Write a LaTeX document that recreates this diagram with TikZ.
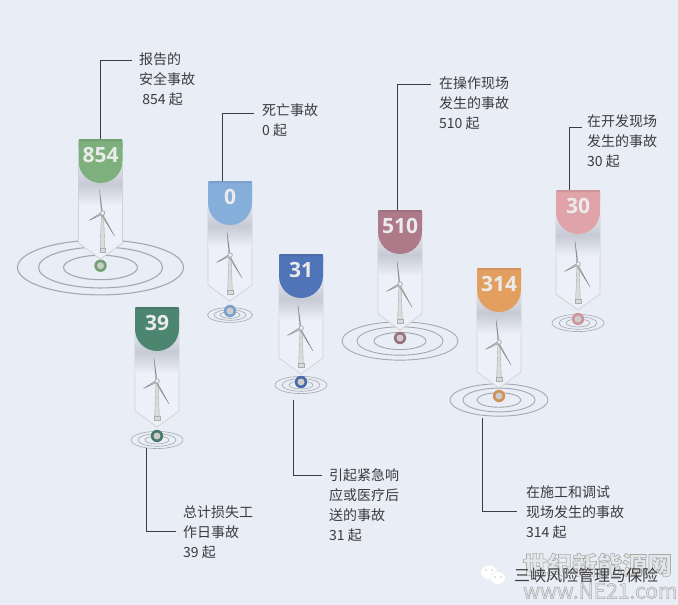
\documentclass[tikz,border=0pt]{standalone}
\usepackage{fontspec}
\setmainfont{Noto Sans CJK SC}
\newfontfamily\numfont{Open Sans}
\usetikzlibrary{calc}
\definecolor{bgc}{HTML}{E8EDF6}
\definecolor{bodyc}{HTML}{EDF0F8}
\definecolor{shadetop}{HTML}{E2E5EE}
\definecolor{shademid}{HTML}{C6CAD5}
\definecolor{txt}{HTML}{3C3C3C}
\definecolor{ringc}{HTML}{A4A8B0}
\definecolor{linec}{HTML}{3A3D42}
\definecolor{cgreen}{HTML}{7DB07C}
\definecolor{cblue}{HTML}{86AEDB}
\definecolor{cdblue}{HTML}{4F74B8}
\definecolor{cdgreen}{HTML}{4C8570}
\definecolor{cmauve}{HTML}{AD7A8A}
\definecolor{corange}{HTML}{E39F60}
\definecolor{cpink}{HTML}{E0A3AA}
\tikzset{
  x=1pt,y=-1pt,
  label text/.style={anchor=north west,inner sep=0pt,align=left,text=txt,font=\fontsize{14}{20}\selectfont},
  num text/.style={text=white!92!black,font=\numfont\fontsize{21}{21}\selectfont\bfseries,inner sep=0pt},
  leader/.style={draw=linec,line width=0.9pt},
  pinbody/.style={draw=black!18,line width=0.7pt,fill=bodyc,line join=round},
  mast/.style={draw=black!32,fill=black!14,line width=0.4pt},
  base/.style={draw=black!32,fill=white!85!black,line width=0.4pt},
  blade/.style={draw=black!48,fill=black!22,line width=0.35pt,line join=round},
  cap anchor/.style={inner sep=0pt,minimum width=44pt,minimum height=0pt},
  mark text/.style={inner sep=0pt,text=white!80!gray,opacity=.8},
}
% set before each pin: \ringW ring line width, \dotY dot offset, \ringY ring offset, \turbX turbine offset
\newcommand{\windpin}[8]{% name, cx, top, colour, number, r1, r2, r3
  \begin{scope}[shift={(#2,#3)}]
    \draw[draw=ringc,line width=\ringW] (0,\ringY) ellipse [x radius=#6,y radius=#6*0.33];
    \draw[draw=ringc,line width=\ringW] (0,\ringY) ellipse [x radius=#7,y radius=#7*0.33];
    \draw[draw=ringc,line width=\ringW] (0,\ringY) ellipse [x radius=#8,y radius=#8*0.33];
    \path[pinbody] (-22,26) -- (-22,104) -- (0,120) -- (22,104) -- (22,26) -- cycle;
    \shade[top color=shadetop,bottom color=bodyc,middle color=shademid] (-21.6,24) rectangle (21.6,66);
    % turbine
    \begin{scope}[xshift=\turbX]
      \path[mast] (-1.1,77) -- (1.1,77) -- (2.4,111) -- (-2.4,111) -- cycle;
      \path[base] (-2.8,109) rectangle (2.8,113);
      \path[blade] (0,73) -- (-3,51) -- (-1,74) -- cycle;
      \path[blade] (-1,73.5) -- (-13.5,81.5) -- (-0.5,75.5) -- cycle;
      \path[blade] (0,75) -- (12,97) -- (-1,76) -- cycle;
      \draw[black!42,line width=0.45pt,fill=bgc] (0.2,74) circle (2.2);
    \end{scope}
    % cap
    \fill[#4,rounded corners=1.5pt] (-22,0) -- (22,0) -- (22,10) -- (-22,10) -- cycle;
    \fill[#4] (-22,4) -- (22,4) -- (22,22) arc[start angle=0,end angle=180,radius=22] -- cycle;
    \fill[#4!92!black,rounded corners=1pt] (-22,0) rectangle (22,2.2);
    \node[num text] at (0,16) {#5};
    % ground dot
    \fill[#4!92!black] (0,\dotY) circle (6.2);
    \fill[black!20] (0,\dotY) circle (3.5);
  \end{scope}
  \node[cap anchor] (#1) at (#2,#3) {};
}
\begin{document}
\begin{tikzpicture}
\useasboundingbox (0,0) rectangle (678,605);
\fill[bgc] (0,0) rectangle (678,605);

\def\turbX{2pt}\def\ringW{1.1pt}\def\dotY{126.7}\def\ringY{128.5}
\windpin{p854}{100.5}{139}{cgreen}{854}{83}{62}{37}
\def\turbX{0pt}\def\ringW{.6pt}\def\dotY{130}\def\ringY{134}
\windpin{p0}{230}{181}{cblue}{0}{22.5}{16}{10}
\def\dotY{128}\def\ringY{131}
\windpin{p31}{301}{254}{cdblue}{31}{26}{19}{12}
\def\dotY{129}\def\ringY{133}
\windpin{p39}{157}{307}{cdgreen}{39}{26}{19}{12}
\def\ringW{.9pt}\def\dotY{128}\def\ringY{131}
\windpin{p510}{400}{210}{cmauve}{510}{58}{43}{26}
\def\ringY{132}
\windpin{p314}{499}{268}{corange}{314}{49}{36}{22}
\def\ringW{.6pt}\def\dotY{129}\def\ringY{133}
\windpin{p30}{578}{190}{cpink}{30}{26}{19}{12}

\node[label text] (t854) at (139,52) {报告的\\安全事故\\ \ 854 起};
\node[label text] (t0) at (262,104) {死亡事故\\0 起};
\node[label text] (t510) at (439,77) {在操作现场\\发生的事故\\510 起};
\node[label text] (t30) at (587,114) {在开发现场\\发生的事故\\30 起};
\node[label text] (t39) at (183,506) {总计损失工\\作日事故\\39 起};
\node[label text] (t31) at (329,468) {引起紧急响\\应或医疗后\\送的事故\\31 起};
\node[label text] (t314) at (526,486) {在施工和调试\\现场发生的事故\\314 起};

\coordinate (e854) at (132,60);
\coordinate (e0) at (254,113);
\coordinate (e510) at (431,84);
\coordinate (e30) at (582,127);
\coordinate (e39) at (176,531);
\coordinate (e31) at (322,475);
\coordinate (e314) at (517,511);
\coordinate (s39) at (146,448);
\coordinate (s31) at (293,400);
\coordinate (s314) at (482,418);

\draw[leader] (p854.north) |- (e854);
\draw[leader] ([xshift=-8pt]p0.north) |- (e0);
\draw[leader] ([xshift=-3pt]p510.north) |- (e510);
\draw[leader] ([xshift=-9pt]p30.north) |- (e30);
\draw[leader] (s39) |- (e39);
\draw[leader] (s31) |- (e31);
\draw[leader] (s314) |- (e314);

% watermark and account line
\node[mark text,anchor=west,font=\fontsize{25}{25}\selectfont\bfseries] (wm1) at (522,565) {\special{pdf:code 2 Tr 0.6 w 0.6 G}世纪新能源网};
\node[mark text,anchor=west,font=\fontsize{21}{21}\selectfont] (wm2) at (523,591) {\special{pdf:code 2 Tr 0.5 w 0.6 G}www.NE21.com};
\fill[white] (489,572.5) ellipse [x radius=8,y radius=7];
\filldraw[white,draw=bgc,line width=.6pt] (498,578) ellipse [x radius=7.5,y radius=6.5];
\foreach \ex/\ey in {486/570,492/570,495/577,501/577}
  \fill[black!45] (\ex,\ey) circle (.7);
\node[anchor=west,inner sep=0pt,text=txt,font=\fontsize{16}{16}\selectfont] (acct) at (514,575) {三峡风险管理与保险};
\end{tikzpicture}
\end{document}
